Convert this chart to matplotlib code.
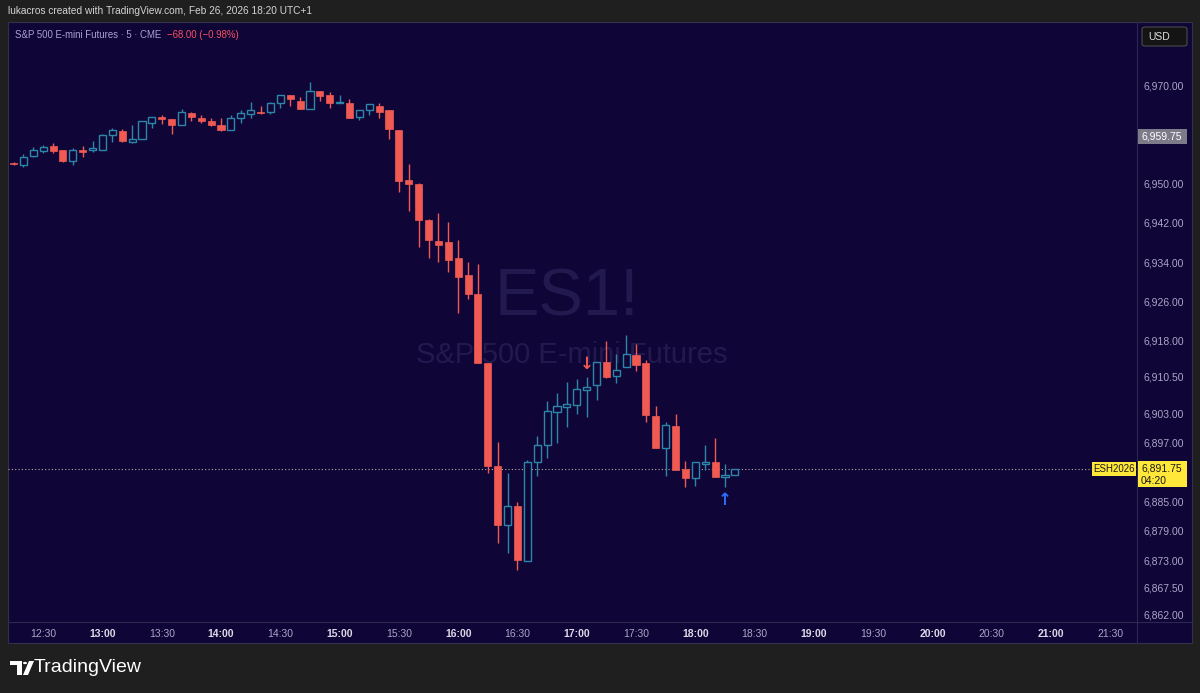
import matplotlib
matplotlib.use("Agg")
import matplotlib.pyplot as plt
from matplotlib import font_manager
from matplotlib.patches import Rectangle, FancyBboxPatch, Polygon, Circle

# 5 minute bars, ES1! from 12:15
start_time = "12:15"
opens  = [6954.25, 6953.75, 6955.75, 6956.75, 6957.75, 6957.0, 6954.75, 6957.0, 6957.0, 6957.0,
          6960.0, 6960.75, 6958.5, 6959.25, 6962.5, 6963.75, 6963.25, 6962.0, 6964.5, 6963.5,
          6962.75, 6962.0, 6961.0, 6963.5, 6964.25, 6964.75, 6964.75, 6966.5, 6968.25, 6967.0,
          6965.25, 6969.0, 6968.25, 6966.5, 6966.5, 6963.75, 6965.0, 6966.0, 6965.0, 6961.0,
          6950.75, 6950.0, 6942.5, 6938.25, 6938.0, 6934.75, 6931.25, 6927.5, 6913.25, 6892.25,
          6880.25, 6884.0, 6872.75, 6893.0, 6896.5, 6903.25, 6904.25, 6904.75, 6907.75, 6908.75,
          6913.5, 6910.75, 6912.5, 6915.0, 6913.25, 6902.5, 6896.0, 6900.5, 6891.75, 6889.75,
          6892.75, 6893.0, 6890.0, 6890.5]
highs  = [6954.5, 6956.0, 6957.5, 6958.0, 6958.25, 6957.0, 6957.25, 6957.75, 6958.75, 6960.25,
          6961.5, 6961.25, 6962.0, 6962.75, 6963.75, 6964.0, 6963.25, 6965.25, 6964.75, 6964.0,
          6963.5, 6963.5, 6964.0, 6965.0, 6966.75, 6966.0, 6966.75, 6968.25, 6968.25, 6967.75,
          6970.75, 6969.0, 6968.75, 6968.25, 6967.25, 6965.0, 6966.25, 6966.5, 6965.0, 6961.0,
          6954.0, 6950.25, 6942.75, 6944.0, 6942.25, 6938.5, 6934.0, 6933.5, 6913.25, 6897.25,
          6890.75, 6885.0, 6893.5, 6898.5, 6905.5, 6907.25, 6909.5, 6910.0, 6910.5, 6913.5,
          6917.75, 6915.25, 6919.0, 6917.25, 6914.0, 6904.5, 6901.25, 6903.0, 6893.25, 6893.0,
          6896.5, 6898.0, 6892.75, 6891.75]
lows   = [6953.75, 6953.5, 6955.5, 6956.25, 6956.25, 6954.5, 6953.75, 6955.5, 6956.5, 6957.0,
          6958.5, 6958.5, 6958.25, 6959.25, 6961.5, 6962.25, 6960.25, 6962.0, 6962.75, 6962.5,
          6961.75, 6960.75, 6961.0, 6962.5, 6963.5, 6964.25, 6964.25, 6965.5, 6966.0, 6965.25,
          6965.25, 6967.0, 6965.5, 6966.5, 6963.5, 6963.0, 6964.0, 6963.5, 6959.25, 6948.25,
          6944.5, 6937.0, 6934.75, 6934.0, 6932.0, 6923.5, 6926.5, 6913.25, 6890.75, 6876.5,
          6874.5, 6871.0, 6872.75, 6890.25, 6894.0, 6897.0, 6900.25, 6903.0, 6902.25, 6905.75,
          6910.25, 6909.25, 6912.5, 6911.75, 6901.25, 6896.0, 6890.25, 6891.5, 6888.0, 6888.25,
          6891.5, 6890.0, 6888.0, 6890.5]
closes = [6954.0, 6955.5, 6957.0, 6957.5, 6956.75, 6954.75, 6957.0, 6956.5, 6957.25, 6960.0,
          6961.0, 6958.75, 6959.25, 6962.75, 6963.75, 6963.25, 6962.0, 6964.75, 6963.75, 6962.75,
          6962.0, 6961.0, 6963.5, 6964.5, 6965.0, 6964.5, 6966.5, 6968.25, 6967.25, 6965.25,
          6969.0, 6968.0, 6966.5, 6966.75, 6963.5, 6965.0, 6966.25, 6964.75, 6961.25, 6950.5,
          6950.0, 6942.5, 6938.5, 6937.5, 6934.5, 6931.0, 6927.5, 6913.25, 6892.25, 6880.25,
          6884.0, 6873.0, 6893.0, 6896.5, 6903.5, 6904.5, 6905.0, 6908.0, 6908.5, 6913.5,
          6910.5, 6912.0, 6915.25, 6913.0, 6902.75, 6896.0, 6900.75, 6891.5, 6889.75, 6893.0,
          6893.0, 6890.0, 6890.5, 6891.75]

price_ticks = [6970, 6950, 6942, 6934, 6926, 6918, 6910.5, 6903, 6897, 6885, 6879, 6873, 6867.5, 6862]
time_labels = ["12:30", "13:00", "13:30", "14:00", "14:30", "15:00", "15:30", "16:00", "16:30",
               "17:00", "17:30", "18:00", "18:30", "19:00", "19:30", "20:00", "20:30", "21:00", "21:30"]
prev_close = 6959.75
last_price = 6891.75
sell_bar = 58
buy_bar = 72

BG = "#100537"
FRAME = "#1f1f1f"
UP = "#2b86a8"
DOWN = "#f05a52"
AXTXT = "#aba6c8"

names = {f.name for f in font_manager.fontManager.ttflist}
FONT = "Liberation Sans Narrow" if "Liberation Sans Narrow" in names else "Liberation Sans"
plt.rcParams["font.family"] = [FONT, "DejaVu Sans"]


def to_min(s):
    h, m = s.split(":")
    return int(h) * 60 + int(m)


t0 = to_min(start_time)
xs = [t0 + 5 * i for i in range(len(opens))]

W, H = 1200, 693
fig = plt.figure(figsize=(12, 6.93), dpi=100, facecolor=FRAME)

# chart panel (behind the axes)
fig.patches.append(Rectangle((8 / W, 1 - 643 / H), 1184 / W, 621 / H, transform=fig.transFigure,
                             facecolor=BG, edgecolor="#34304a", lw=0.8, zorder=-2))
fig.lines.append(plt.Line2D([1137 / W, 1137 / W], [1 - 643 / H, 1 - 22 / H], transform=fig.transFigure,
                            color="#2c2850", lw=0.8, zorder=-1))
fig.lines.append(plt.Line2D([8 / W, 1192 / W], [1 - 622 / H, 1 - 622 / H], transform=fig.transFigure,
                            color="#2c2850", lw=0.8, zorder=-1))

ax = fig.add_axes([8 / W, 1 - 622 / H, 1129 / W, 600 / H])
ax.set_facecolor("none")
ax.set_xlim(t0 - 2.8, t0 + 568.5)
ax.set_ylim(6860.37, 6983.09)
for s in ax.spines.values():
    s.set_visible(False)

# watermark
ax.text(0.495, 0.54, "ES1!", transform=ax.transAxes, ha="center", va="center",
        fontsize=48, color="#221a4f", zorder=0)
ax.text(0.499, 0.445, "S&P 500 E-mini Futures", transform=ax.transAxes, ha="center", va="center",
        fontsize=21, color="#221a4f", zorder=0)

# candles
bw = 3.6
for x, o, h, l, c in zip(xs, opens, highs, lows, closes):
    up = c >= o
    col = UP if up else DOWN
    ax.vlines(x, l, h, color=col, lw=1, zorder=2)
    bot = min(o, c)
    hgt = max(abs(c - o), 0.25)
    if up:
        ax.bar(x, hgt, bottom=bot, width=bw, facecolor=BG, edgecolor=col, lw=1, zorder=3)
    else:
        ax.bar(x, hgt, bottom=bot, width=bw, facecolor=col, edgecolor=col, lw=0.5, zorder=3)

# last price line
ax.axhline(last_price, color="#b8b0a0", lw=0.8, ls=(0, (1, 2)), zorder=1)

# signals
ax.annotate("↓", xy=(xs[sell_bar], highs[sell_bar]), xytext=(0, 3), textcoords="offset points",
            ha="center", va="bottom", fontsize=12, fontweight="bold", color=DOWN,
            family="DejaVu Sans", zorder=4)
ax.annotate("↑", xy=(xs[buy_bar], lows[buy_bar]), xytext=(0, -3), textcoords="offset points",
            ha="center", va="top", fontsize=12, fontweight="bold", color="#2f6bff",
            family="DejaVu Sans", zorder=4)

# axes ticks
ax.yaxis.tick_right()
ax.set_yticks(price_ticks, [f"{p:,.2f}" for p in price_ticks])
ax.tick_params(axis="y", length=0, pad=5, labelsize=7.5, labelcolor=AXTXT)
tpos = [to_min(t) for t in time_labels]
ax.set_xticks(tpos, time_labels)
ax.tick_params(axis="x", length=0, pad=5, labelsize=7.5, labelcolor=AXTXT)
for lab in ax.get_xticklabels():
    if lab.get_text().endswith(":00"):
        lab.set_fontweight("bold")
        lab.set_color("#dcdae8")


def fy(p):
    return fig.transFigure.inverted().transform(ax.transData.transform((t0, p)))[1]


# previous close label
yc = fy(prev_close)
fig.patches.append(Rectangle((1138 / W, yc - 7.5 / H), 49 / W, 15 / H, transform=fig.transFigure,
                             facecolor="#7d7b8a", edgecolor="none", zorder=5))
fig.text(1141 / W, yc, f"{prev_close:,.2f}", color="white", fontsize=7.5, va="center", ha="left", zorder=6)

# last price label
yl = fy(last_price)
fig.patches.append(Rectangle((1138 / W, yl - 18 / H), 49 / W, 26 / H, transform=fig.transFigure,
                             facecolor="#ffe83a", edgecolor="none", zorder=5))
fig.text(1141 / W, yl, f"{last_price:,.2f}", color="#1a1a1a", fontsize=7.5, va="center", ha="left", zorder=6)
fig.text(1141 / W, yl - 12 / H, "04:20", color="#1a1a1a", fontsize=7.5, va="center", ha="left", zorder=6)
fig.patches.append(Rectangle((1092 / W, yl - 7 / H), 44 / W, 14 / H, transform=fig.transFigure,
                             facecolor="#ffe83a", edgecolor="none", zorder=5))
fig.text(1114 / W, yl, "ESH2026", color="#1a1a1a", fontsize=7, va="center", ha="center", zorder=6)

# currency box
fig.patches.append(FancyBboxPatch((1142 / W, 1 - 46 / H), 45 / W, 19 / H, transform=fig.transFigure,
                                  boxstyle="round,pad=0,rounding_size=0.003", facecolor="#141414",
                                  edgecolor="#4a4a4a", lw=0.8, zorder=5))
fig.text(1148 / W, 1 - 36.5 / H, "USD", color="#e0e0e0", fontsize=7.5, va="center", ha="left", zorder=6)

# header
fig.text(8 / W, 1 - 11 / H, "lukacros created with TradingView.com, Feb 26, 2026 18:20 UTC+1",
         color="#d4d4d4", fontsize=7.3, va="center", ha="left")
t = fig.text(15 / W, 1 - 35 / H, "S&P 500 E-mini Futures · 5 · CME  ", color="#a9a4cf",
             fontsize=6.9, va="center", ha="left")
fig.canvas.draw()
bb = t.get_window_extent()
fig.text(bb.x1 / W, 1 - 35 / H, "\u221268.00 (\u22120.98%)", color="#f7525f", fontsize=6.9,
         va="center", ha="left")

# TradingView logo
fig.patches.append(Polygon([(10 / W, 1 - 661 / H), (22 / W, 1 - 661 / H), (22 / W, 1 - 675 / H),
                            (17 / W, 1 - 675 / H), (17 / W, 1 - 665 / H), (10 / W, 1 - 665 / H)],
                           closed=True, transform=fig.transFigure, facecolor="white", edgecolor="none"))
fig.patches.append(Circle((25 / W, 1 - 663 / H), 2 / W, transform=fig.transFigure, facecolor="white"))
fig.patches.append(Polygon([(29 / W, 1 - 661 / H), (34 / W, 1 - 661 / H), (28 / W, 1 - 675 / H),
                            (23 / W, 1 - 675 / H)], closed=True, transform=fig.transFigure,
                           facecolor="white", edgecolor="none"))
fig.text(34 / W, 1 - 668 / H, "TradingView", color="white", fontsize=14, va="center", ha="left",
         family=["Liberation Sans", "DejaVu Sans"])

fig.savefig("out.png", dpi=100, facecolor=FRAME)
